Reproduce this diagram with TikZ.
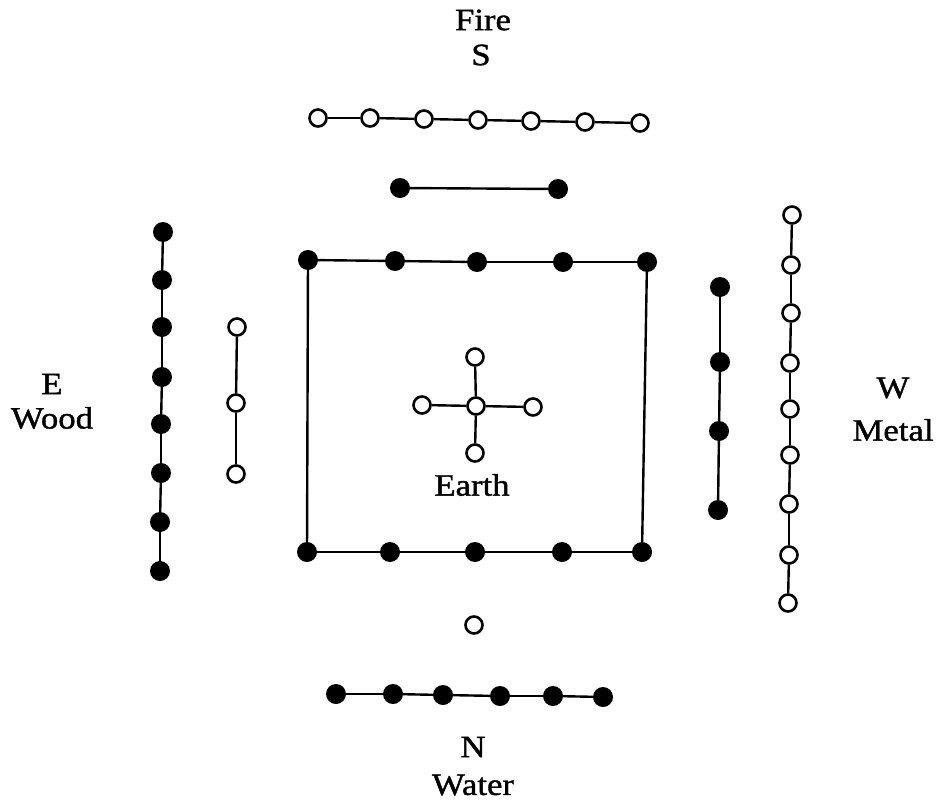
\documentclass[tikz,border=0pt]{standalone}
\usepackage{fontspec}
\setmainfont{Liberation Serif}[FakeStretch=1.12,FakeBold=1.2]
\begin{document}
\begin{tikzpicture}[x=1pt,y=-1pt,
  op/.style={circle,draw,line width=2.6pt,fill=white,minimum size=17pt,inner sep=0pt},
  bl/.style={circle,fill=black,minimum size=20pt,inner sep=0pt},
  ln/.style={line width=2.4pt},
  lab/.style={font=\fontsize{31}{31}\selectfont, inner sep=0pt}]
\useasboundingbox (0,0) rectangle (943,803);
% Fire (south, top) 7 open
\foreach \x/\y [count=\i] in {318/118,370/118,424/119,478/120,531/121,585/122,640/123}
  \node[op] (f\i) at (\x,\y) {};
\foreach \i/\j in {1/2,2/3,3/4,4/5,5/6,6/7} \draw[ln] (f\i) -- (f\j);
% 2 black
\node[bl] (t1) at (400,188) {};
\node[bl] (t2) at (558,189) {};
\draw[ln] (t1) -- (t2);
% Wood 8 black
\foreach \x/\y [count=\i] in {163/232,162/280,162/327,162/377,161/424,161/473,160/522,160/571}
  \node[bl] (w\i) at (\x,\y) {};
\foreach \i/\j in {1/2,2/3,3/4,4/5,5/6,6/7,7/8} \draw[ln] (w\i) -- (w\j);
% 3 open
\foreach \x/\y [count=\i] in {237/327,236/403,236/474}
  \node[op] (v\i) at (\x,\y) {};
\draw[ln] (v1) -- (v2); \draw[ln] (v2) -- (v3);
% 4 black
\foreach \x/\y [count=\i] in {720/287,720/362,719/431,718/510}
  \node[bl] (m\i) at (\x,\y) {};
\foreach \i/\j in {1/2,2/3,3/4} \draw[ln] (m\i) -- (m\j);
% Metal 9 open
\foreach \x/\y [count=\i] in {792/215,791/265,791/313,790/363,790/409,790/455,789/504,789/555,788/603}
  \node[op] (n\i) at (\x,\y) {};
\foreach \i/\j in {1/2,2/3,3/4,4/5,5/6,6/7,7/8,8/9} \draw[ln] (n\i) -- (n\j);
% Square with 10 black
\foreach \x/\y [count=\i] in {308/260,395/261,477/262,563/262,647/262,642/552,562/552,475/552,390/552,307/552}
  \node[bl] (s\i) at (\x,\y) {};
\foreach \i/\j in {1/2,2/3,3/4,4/5,5/6,6/7,7/8,8/9,9/10,10/1} \draw[ln] (s\i) -- (s\j);
% Earth cross 5 open
\node[op] (c0) at (476,406) {};
\node[op] (c1) at (475,357) {};
\node[op] (c2) at (533,407) {};
\node[op] (c3) at (475,453) {};
\node[op] (c4) at (422,405) {};
\foreach \i in {1,2,3,4} \draw[ln] (c0) -- (c\i);
% Water 1 open, 6 black
\node[op] (u0) at (474,625) {};
\foreach \x/\y [count=\i] in {336/694,393/694,443/695,500/696,553/696,603/697}
  \node[bl] (b\i) at (\x,\y) {};
\foreach \i/\j in {1/2,2/3,3/4,4/5,5/6} \draw[ln] (b\i) -- (b\j);
% Labels
\node[lab] (lfire) at (483,20) {Fire};
\node[lab] (ls) at (481,55) {S};
\node[lab] (le) at (52,384) {E};
\node[lab] (lwood) at (52,418) {Wood};
\node[lab] (lw) at (893,388) {W};
\node[lab] (lmetal) at (893,430) {Metal};
\node[lab] (learth) at (472,485) {Earth};
\node[lab] (ln) at (473,747) {N};
\node[lab] (lwater) at (473,785) {Water};
\end{tikzpicture}
\end{document}
